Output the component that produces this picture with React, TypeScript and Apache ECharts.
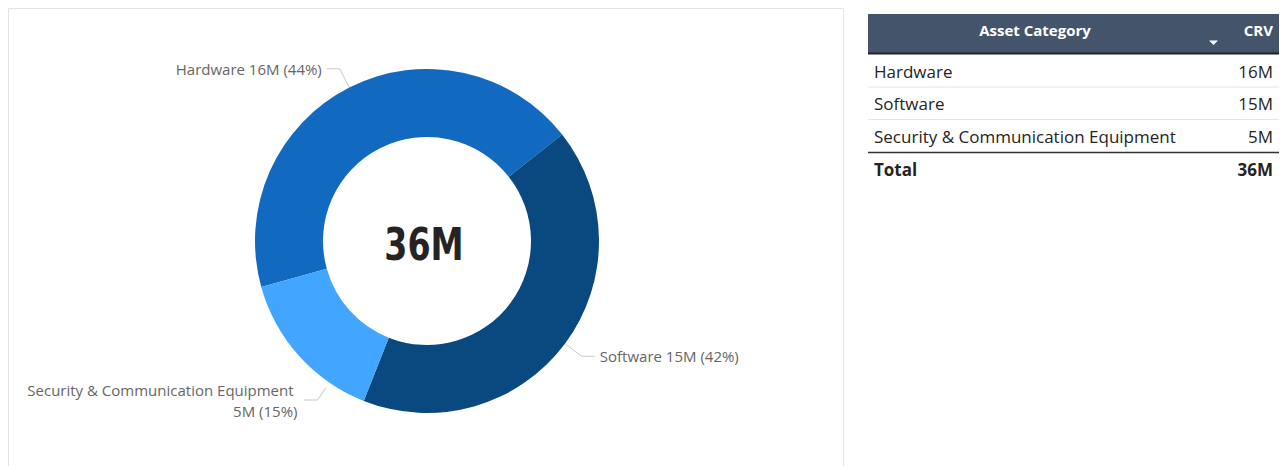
import React, { useEffect, useRef } from "react";
import * as echarts from "echarts";

const categories = ["Hardware", "Software", "Security & Communication Equipment"];
const crvMillions = [15.75, 15.0, 5.3];
const sliceColors = ["#1169C0", "#0A4880", "#42A5FF"];
const headerLabels = ["Asset Category", "CRV"];
const totalLabel = "Total";

const fmtM = (v: number) => `${Math.round(v)}M`;

export default function App() {
  const ref = useRef<HTMLDivElement>(null);
  useEffect(() => {
    const chart = echarts.init(ref.current!, null, { renderer: "svg" });
    const total = crvMillions.reduce((a, b) => a + b, 0);
    const font = "'Segoe UI', 'Open Sans', sans-serif";
    const tx0 = 868;
    const tx1 = 1279;
    const textL = 874;
    const textR = 1273;
    const rowTop = 55;
    const rowH = 32.5;
    const textColor = "#252423";
    const pieCenter = [427, 241];
    const outerR = 172;

    const graphics: any[] = [
      {
        type: "rect",
        shape: { x: 8.5, y: 8.5, width: 835, height: 480 },
        style: { fill: "none", stroke: "#e4e4e4", lineWidth: 1 },
      },
      {
        type: "rect",
        shape: { x: tx0, y: 14, width: tx1 - tx0, height: 39 },
        style: { fill: "#44546A" },
      },
      {
        type: "line",
        shape: { x1: tx0, y1: 53.5, x2: tx1, y2: 53.5 },
        style: { stroke: "#222", lineWidth: 2 },
      },
      {
        type: "text",
        style: {
          text: headerLabels[0],
          x: 1035,
          y: 30,
          fill: "#fff",
          font: `bold 15px ${font}`,
          textAlign: "center",
          textVerticalAlign: "middle",
        },
      },
      {
        type: "text",
        style: {
          text: headerLabels[1],
          x: textR,
          y: 30,
          fill: "#fff",
          font: `bold 15px ${font}`,
          textAlign: "right",
          textVerticalAlign: "middle",
        },
      },
      {
        type: "polygon",
        shape: { points: [[1209, 40.5], [1218, 40.5], [1213.5, 45]] },
        style: { fill: "#fff" },
      },
      {
        type: "text",
        x: 424,
        y: 245,
        scaleX: 0.84,
        style: {
          text: fmtM(total),
          x: 0,
          y: 0,
          fill: textColor,
          font: `bold 44px 'DejaVu Sans Condensed', 'DejaVu Sans', sans-serif`,
          textAlign: "center",
          textVerticalAlign: "middle",
        },
      },
    ];

    categories.forEach((c, i) => {
      const cy = rowTop + rowH * i + rowH / 2;
      graphics.push({
        type: "text",
        style: { text: c, x: textL, y: cy, fill: textColor, font: `17px ${font}`, textAlign: "left", textVerticalAlign: "middle" },
      });
      graphics.push({
        type: "text",
        style: { text: fmtM(crvMillions[i]), x: textR, y: cy, fill: textColor, font: `17px ${font}`, textAlign: "right", textVerticalAlign: "middle" },
      });
      if (i < categories.length - 1) {
        const ly = rowTop + rowH * (i + 1) - 0.5;
        graphics.push({
          type: "line",
          shape: { x1: tx0, y1: ly, x2: tx1, y2: ly },
          style: { stroke: "#e6e6e6", lineWidth: 1 },
        });
      }
    });
    const totalTop = rowTop + rowH * categories.length;
    graphics.push({
      type: "line",
      shape: { x1: tx0, y1: totalTop, x2: tx1, y2: totalTop },
      style: { stroke: "#333", lineWidth: 1.5 },
    });
    graphics.push({
      type: "text",
      style: { text: totalLabel, x: textL, y: totalTop + 17, fill: textColor, font: `bold 17px ${font}`, textAlign: "left", textVerticalAlign: "middle" },
    });
    graphics.push({
      type: "text",
      style: { text: fmtM(total), x: textR, y: totalTop + 17, fill: textColor, font: `bold 17px ${font}`, textAlign: "right", textVerticalAlign: "middle" },
    });

    const shiftedLabel = (p: any) => {
      if (p.dataIndex !== 2) return {};
      const dx = 32;
      const dy = 30;
      const r = p.labelRect;
      const endX = r.x + r.width + dx + 6;
      const endY = r.y + r.height / 2 + dy;
      const bendX = endX + 14;
      const bendY = endY;
      const vx = bendX - pieCenter[0];
      const vy = bendY - pieCenter[1];
      const len = Math.sqrt(vx * vx + vy * vy);
      const k = (outerR + 6) / len;
      const startPt = [pieCenter[0] + vx * k, pieCenter[1] + vy * k];
      return {
        dx,
        dy,
        labelLinePoints: [startPt, [bendX, bendY], [endX, endY]],
      };
    };

    chart.setOption({
      animation: false,
      series: [
        {
          type: "pie",
          center: pieCenter,
          radius: [104, outerR],
          startAngle: 90 - 254.5,
          clockwise: true,
          avoidLabelOverlap: true,
          data: categories.map((c, i) => ({
            name: c,
            value: crvMillions[i],
            itemStyle: { color: sliceColors[i] },
          })),
          label: {
            show: true,
            position: "outside",
            color: "#666666",
            fontFamily: font,
            fontSize: 15,
            lineHeight: 21,
            width: 275,
            overflow: "break",
            formatter: (p: any) => `${p.name} ${fmtM(p.value)} (${Math.round(p.percent)}%)`,
          },
          labelLine: {
            show: true,
            length: 21,
            length2: 13,
            lineStyle: { color: "#c8c8c8", width: 1 },
          },
          labelLayout: shiftedLabel,
          emphasis: { disabled: true },
        },
      ],
      graphic: graphics,
    });
    return () => chart.dispose();
  }, []);
  return (
    <div
      ref={ref}
      style={{ position: "absolute", left: 0, top: 0, width: 1283, height: 466, background: "#fff" }}
    />
  );
}
